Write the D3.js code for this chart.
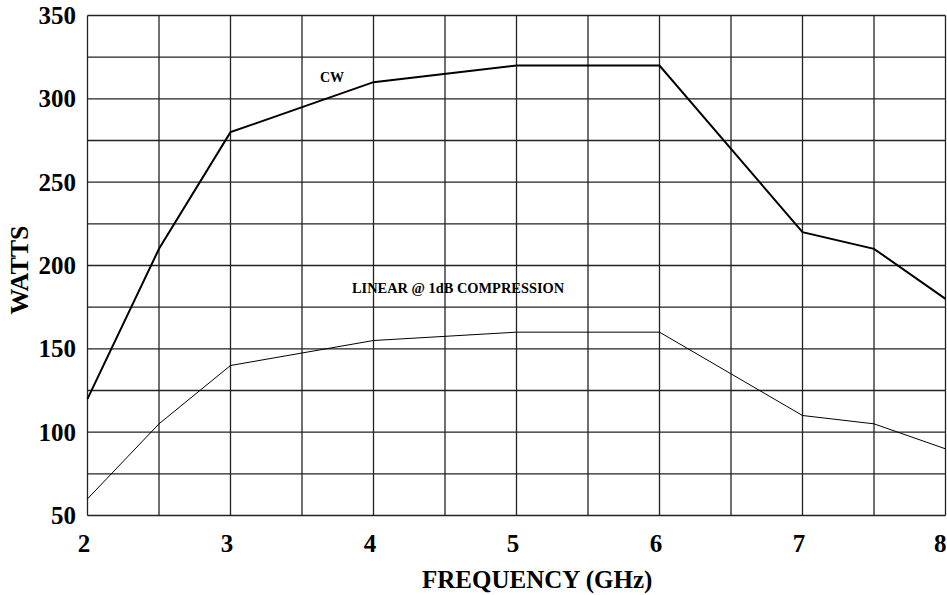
<!DOCTYPE html>
<html><head><meta charset="utf-8">
<script src="https://cdn.jsdelivr.net/npm/d3@7"></script>
<style>body{margin:0;background:#fff}svg{display:block}text{font-family:"Liberation Serif","Times New Roman",serif;font-weight:bold}</style>
</head><body><svg id="c" width="947" height="595"></svg>
<script>
const freq = [2, 2.5, 3, 4, 5, 6, 7, 7.5, 8];
const cw = [120, 210, 280, 310, 320, 320, 220, 210, 180];
const linear = [60, 105, 140, 155, 160, 160, 110, 105, 90];
const xTicks = [2, 3, 4, 5, 6, 7, 8];
const yTicks = [50, 100, 150, 200, 250, 300, 350];

const svg = d3.select("#c");
const m = {l: 87.5, r: 945.5, t: 15.5, b: 515.5};
const x = d3.scaleLinear().domain([2, 8]).range([m.l, m.r]);
const y = d3.scaleLinear().domain([50, 350]).range([m.b, m.t]);

const g = svg.append("g");
const xg = d3.range(2, 8.01, 0.5), yg = d3.range(50, 350.1, 25);
g.selectAll("line.vx").data(xg).join("line")
  .attr("x1", d => x(d)).attr("x2", d => x(d)).attr("y1", m.t).attr("y2", m.b)
  .attr("stroke", "#222").attr("stroke-width", 1.3);
g.selectAll("line.hy").data(yg).join("line")
  .attr("y1", d => y(d)).attr("y2", d => y(d)).attr("x1", m.l).attr("x2", m.r)
  .attr("stroke", "#222").attr("stroke-width", 1.3);

const xAxis = svg.append("g").attr("transform", `translate(0,${m.b})`)
  .call(d3.axisBottom(x).tickValues(xTicks).tickSize(0).tickFormat(d3.format("d")));
xAxis.selectAll("text").attr("y", 36.5).attr("dy", 0)
  .attr("text-anchor", d => d === 8 ? "end" : "middle")
  .attr("dx", d => d === 8 ? 0.5 : -4);
const yAxis = svg.append("g").attr("transform", `translate(${m.l},0)`)
  .call(d3.axisLeft(y).tickValues(yTicks).tickSize(0).tickPadding(11.5).tickFormat(d3.format("d")));
[xAxis, yAxis].forEach(a => { a.select(".domain").remove(); a.selectAll("text").attr("font-size", 25).attr("font-family", "Liberation Serif").attr("font-weight", "bold").attr("fill", "#000"); });

const line = d3.line().x((d, i) => x(freq[i])).y(d => y(d));
svg.append("path").datum(cw).attr("d", line).attr("fill", "none").attr("stroke", "#000").attr("stroke-width", 2);
svg.append("path").datum(linear).attr("d", line).attr("fill", "none").attr("stroke", "#000").attr("stroke-width", 1);

svg.append("text").attr("x", 332).attr("y", 82).attr("text-anchor", "middle").attr("font-size", 14).text("CW");
svg.append("text").attr("x", 352).attr("y", 293.3).attr("text-anchor", "start").attr("font-size", 14.4).text("LINEAR @ 1dB COMPRESSION");

svg.append("text").attr("x", 422).attr("y", 588).attr("text-anchor", "start").attr("font-size", 25).text("FREQUENCY (GHz)");
svg.append("text").attr("transform", `translate(28,270) rotate(-90)`).attr("text-anchor", "middle").attr("font-size", 26).text("WATTS");
</script></body></html>
